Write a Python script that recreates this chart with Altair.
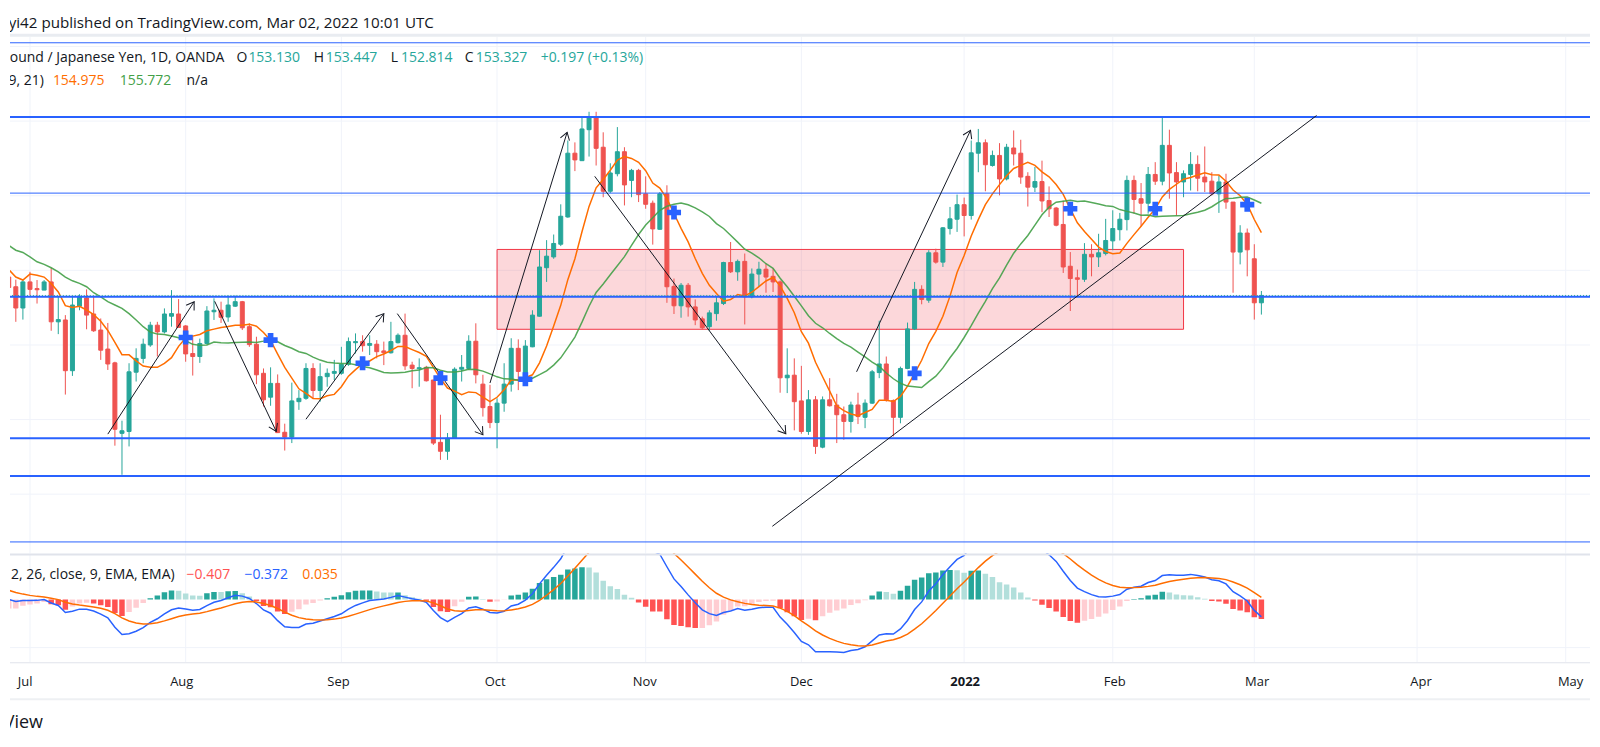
import math
import numpy as np
import pandas as pd
import altair as alt

# ---------------- data ----------------
# daily bars, index 0 = 2021-06-28 ... index 177 = 2022-03-02
opens = [153.82, 153.56, 152.99, 153.69, 153.51, 153.47, 153.69, 152.62, 152.67, 151.31,
         153.04, 153.26, 152.83, 152.40, 151.89, 151.52, 149.63, 149.68, 151.27, 151.64,
         152.00, 152.53, 152.35, 152.77, 152.83, 152.51, 151.77, 151.69, 152.04, 152.89,
         152.93, 152.75, 153.04, 153.16, 152.49, 152.02, 151.24, 150.60, 150.97, 149.66,
         149.53, 150.48, 150.57, 151.37, 150.78, 151.15, 151.24, 151.24, 151.48, 152.06,
         152.09, 151.99, 152.02, 151.84, 151.79, 152.06, 152.26, 151.46, 151.36, 151.40,
         151.06, 149.39, 149.15, 149.50, 151.35, 151.37, 152.10, 150.95, 150.35, 149.92,
         150.44, 150.95, 151.91, 151.15, 151.95, 152.77, 154.07, 154.36, 154.70, 155.43,
         157.14, 156.94, 157.77, 158.10, 157.30, 156.12, 156.59, 157.18, 156.41, 156.68,
         156.05, 155.80, 155.10, 156.05, 153.57, 153.05, 153.60, 153.02, 152.70, 152.49,
         152.84, 153.11, 154.21, 153.96, 154.24, 153.29, 153.90, 154.03, 153.84, 153.69,
         151.12, 151.19, 150.50, 149.68, 150.53, 149.26, 150.53, 150.39, 150.13, 149.95,
         150.39, 150.06, 150.44, 151.26, 151.49, 150.51, 150.06, 151.37, 152.43, 153.49,
         153.20, 154.47, 154.22, 155.12, 155.37, 155.76, 155.47, 157.14, 157.42, 156.81,
         157.08, 156.45, 157.28, 157.14, 156.52, 156.23, 156.38, 155.87, 155.67, 155.23,
         154.11, 153.80, 153.76, 154.43, 154.36, 154.45, 154.79, 155.09, 155.36, 156.41,
         155.92, 155.80, 156.57, 156.39, 157.35, 156.62, 156.37, 156.57, 156.84, 156.50,
         156.39, 156.05, 156.37, 155.83, 154.49, 155.00, 154.31, 153.13]
highs = [154.23, 153.75, 153.74, 153.96, 153.74, 153.74, 154.07, 153.29, 152.80, 153.29,
         153.36, 153.49, 153.32, 152.71, 152.59, 151.55, 149.97, 151.51, 151.91, 152.17,
         152.62, 152.62, 152.98, 153.47, 153.23, 152.53, 152.26, 152.17, 153.04, 153.25,
         153.16, 153.32, 153.32, 153.18, 152.58, 152.22, 151.37, 151.40, 151.21, 149.89,
         150.99, 150.79, 151.51, 151.51, 151.51, 151.37, 151.60, 151.95, 152.20, 152.31,
         152.26, 152.26, 152.13, 152.09, 152.62, 152.31, 152.84, 151.55, 151.64, 151.44,
         151.06, 150.13, 149.64, 151.40, 151.73, 152.26, 152.58, 151.20, 150.93, 150.57,
         151.51, 152.18, 152.15, 152.13, 152.93, 154.54, 154.81, 154.96, 155.77, 157.48,
         157.43, 158.09, 158.25, 158.25, 157.70, 156.87, 157.84, 157.30, 156.72, 156.72,
         156.52, 155.87, 156.10, 156.28, 153.78, 153.66, 153.66, 153.22, 152.76, 152.93,
         153.29, 154.23, 154.76, 154.29, 154.45, 154.05, 154.23, 154.18, 154.05, 153.73,
         151.91, 151.64, 151.44, 150.79, 150.63, 150.62, 151.11, 150.69, 150.35, 150.48,
         150.72, 150.54, 151.33, 152.65, 151.69, 150.54, 151.42, 152.60, 153.69, 153.60,
         154.54, 154.58, 155.16, 155.70, 156.03, 155.95, 157.48, 157.79, 157.51, 157.21,
         157.41, 157.39, 157.75, 157.50, 156.63, 156.77, 156.94, 156.25, 155.70, 155.87,
         154.49, 154.02, 154.73, 154.70, 154.98, 155.38, 155.61, 155.54, 156.54, 156.54,
         156.34, 156.77, 156.90, 158.10, 157.77, 156.90, 156.68, 157.17, 157.08, 157.32,
         156.63, 156.54, 156.59, 155.83, 155.21, 155.12, 154.70, 153.447]
lows = [153.38, 152.62, 152.68, 153.33, 153.11, 153.47, 152.38, 152.29, 150.67, 151.17,
        152.93, 152.42, 152.35, 151.60, 151.33, 149.30, 148.52, 149.28, 151.02, 151.51,
        151.95, 151.69, 152.31, 152.49, 152.47, 151.55, 151.18, 151.52, 152.01, 152.67,
        152.59, 152.62, 153.02, 152.40, 151.95, 150.95, 150.35, 150.37, 149.64, 149.17,
        149.37, 150.26, 150.53, 150.57, 150.48, 150.88, 151.06, 151.20, 151.44, 151.77,
        151.82, 151.73, 151.64, 151.46, 151.77, 152.04, 151.33, 150.84, 150.88, 151.02,
        149.32, 148.92, 148.92, 149.48, 151.02, 151.33, 150.97, 150.08, 149.77, 149.23,
        150.21, 150.75, 150.79, 150.97, 151.94, 152.76, 153.69, 154.31, 154.65, 155.41,
        156.66, 156.93, 157.05, 156.81, 155.96, 156.07, 156.52, 155.74, 155.96, 155.83,
        155.65, 154.69, 155.09, 153.13, 152.83, 152.73, 152.76, 152.53, 152.42, 152.38,
        152.65, 153.07, 153.93, 153.72, 152.55, 153.25, 153.56, 153.40, 153.42, 150.72,
        150.71, 149.71, 149.62, 149.59, 149.08, 149.23, 150.35, 149.37, 149.46, 149.65,
        149.88, 149.77, 150.42, 151.11, 150.48, 149.55, 149.90, 151.35, 152.40, 153.09,
        153.13, 154.18, 154.09, 154.96, 155.03, 154.91, 155.36, 156.63, 156.12, 156.78,
        156.01, 156.41, 156.81, 156.32, 155.71, 156.10, 155.56, 155.43, 155.18, 153.93,
        152.91, 153.29, 153.69, 153.84, 154.09, 154.40, 154.54, 154.80, 155.07, 155.52,
        155.18, 155.52, 156.29, 156.28, 155.92, 155.47, 155.96, 156.14, 156.12, 156.10,
        156.01, 155.54, 155.65, 153.40, 154.16, 153.84, 152.68, 152.814]
closes = [153.54, 152.99, 153.69, 153.49, 153.48, 153.69, 152.62, 152.68, 151.31, 153.07,
          153.29, 152.80, 152.38, 151.86, 151.49, 149.74, 149.70, 151.28, 151.64, 152.02,
          152.53, 152.35, 152.83, 152.84, 152.47, 151.76, 151.69, 152.04, 152.91, 152.93,
          152.74, 153.07, 153.16, 152.46, 152.01, 151.20, 150.53, 150.97, 149.65, 149.53,
          150.50, 150.57, 151.37, 150.78, 151.15, 151.24, 151.29, 151.48, 152.09, 152.09,
          151.98, 152.04, 151.82, 151.79, 152.09, 152.26, 151.44, 151.37, 151.39, 151.04,
          149.37, 149.15, 149.50, 151.35, 151.40, 152.10, 151.20, 150.32, 149.92, 150.44,
          150.95, 151.91, 151.29, 151.97, 152.80, 154.09, 154.38, 154.72, 155.45, 157.14,
          156.96, 157.79, 158.10, 157.27, 156.12, 156.61, 157.18, 156.29, 156.68, 156.03,
          155.77, 155.11, 156.05, 153.56, 153.05, 153.60, 153.02, 152.67, 152.46, 152.86,
          153.13, 154.21, 153.96, 154.24, 153.29, 153.90, 154.03, 153.82, 153.69, 151.12,
          151.19, 150.48, 149.68, 150.53, 149.28, 150.53, 150.37, 150.13, 149.95, 150.39,
          150.08, 150.44, 151.28, 151.49, 150.53, 150.06, 151.37, 152.43, 153.49, 153.22,
          154.47, 154.22, 155.14, 155.38, 155.76, 155.47, 157.15, 157.42, 156.83, 157.08,
          156.45, 157.30, 157.12, 156.50, 156.23, 156.38, 155.86, 155.65, 155.21, 154.09,
          153.78, 153.76, 154.43, 154.36, 154.47, 154.80, 155.12, 155.37, 156.41, 155.90,
          155.80, 156.57, 156.39, 157.35, 156.61, 156.37, 156.59, 156.84, 156.47, 156.37,
          156.05, 156.37, 155.83, 154.49, 155.00, 154.55, 153.13, 153.327]

# moving-average values at the left edge (before a full window exists)
sma9_head = [154.02, 153.82, 153.74, 153.90, 153.87, 153.82, 153.65, 153.42]
sma21_head = [154.67, 154.54, 154.48, 154.36, 154.23, 154.16, 154.07, 153.96, 153.82, 153.72,
              153.65, 153.56, 153.40, 153.29, 153.16, 153.07, 152.98, 152.84, 152.67, 152.49]
macd_signal_start = 0.19

# time axis: bar index of the first session of each month
month_idx = [3, 25, 47, 69, 90, 112, 135, 156, 176, 199, 220]
month_labels = ["Jul", "Aug", "Sep", "Oct", "Nov", "Dec", "2022", "Feb", "Mar", "Apr", "May"]

price_grid = [148, 150, 152, 154, 156, 158, 160]
macd_grid = [-1]
hline_prices = [160.10, 158.11, 156.07, 153.29, 149.50, 148.49, 146.72]
last_close = 153.327

zone_idx = [69, 166]
zone_price = [154.56, 152.42]

trend_idx = [107.9, 184.8]
trend_price = [147.14, 158.15]

arrow_idx0 = [14.0, 29.1, 42.0, 54.9, 68.0, 82.8, 119.8]
arrow_price0 = [149.61, 153.17, 150.01, 152.84, 150.98, 156.52, 151.28]
arrow_idx1 = [26.2, 37.8, 53.0, 67.0, 78.9, 109.8, 135.9]
arrow_price1 = [153.16, 149.68, 152.84, 149.59, 157.70, 149.62, 157.75]

cross_idx = [25, 37, 50, 61, 73, 94, 128, 150, 162, 175]
cross_price = [152.20, 152.13, 151.51, 151.11, 151.08, 155.55, 151.24, 155.65, 155.65, 155.76]

# ---------------- layout / style ----------------
W = 1584
H_HEAD, H_MAIN, H_MACD, H_AXIS, H_FOOT = 28, 518, 109, 36, 34
X_DOM = [0.8824, 222.73]
P_DOM = [146.409, 160.259]
M_DOM = [-1.304, 0.952]
HLINE_WIDTHS = [1, 2, 1, 2, 2, 2, 1]

FONT = "Open Sans"
LEG = 14
DARK = "#131722"
UP, DOWN = "#26a69a", "#ef5350"
ORANGE, GREEN, BLUE = "#ff6d00", "#43a047", "#2962ff"
GRID = "#f0f3fa"

xs = alt.Scale(domain=X_DOM, nice=False, zero=False)
ps = alt.Scale(domain=P_DOM, nice=False, zero=False)
ms = alt.Scale(domain=M_DOM, nice=False, zero=False)
dir_scale = alt.Scale(domain=["up", "down"], range=[UP, DOWN])

# ---------------- derived series ----------------
n = len(closes)
df = pd.DataFrame({"i": np.arange(n), "open": opens, "high": highs,
                   "low": lows, "close": closes})
df["dir"] = np.where(df["close"] >= df["open"], "up", "down")
c = df["close"]
sma9 = c.rolling(9).mean()
sma9.iloc[:len(sma9_head)] = sma9_head
sma21 = c.rolling(21).mean()
sma21.iloc[:len(sma21_head)] = sma21_head
df["sma9"] = sma9
df["sma21"] = sma21
ema12 = c.ewm(span=12, adjust=False).mean()
ema26 = c.ewm(span=26, adjust=False).mean()
macd = (ema12 - ema26).tolist()
sig = [macd_signal_start]
for m in macd[1:]:
    sig.append(sig[-1] + 0.2 * (m - sig[-1]))
df["macd"] = macd
df["signal"] = sig
df["hist"] = df["macd"] - df["signal"]
prev = df["hist"].shift(1).fillna(df["hist"].iloc[0])
df["hcat"] = np.where(df["hist"] >= 0,
                      np.where(df["hist"] > prev, "pos_up", "pos_down"),
                      np.where(df["hist"] < prev, "neg_down", "neg_up"))
hist_scale = alt.Scale(domain=["pos_up", "pos_down", "neg_down", "neg_up"],
                       range=["#26a69a", "#b2dfdb", "#ff5252", "#ffcdd2"])

X = alt.X("i:Q", scale=xs, axis=None)

months = pd.DataFrame({"i": month_idx, "label": month_labels})
hl = pd.DataFrame({"price": hline_prices, "w": HLINE_WIDTHS})
zone = pd.DataFrame({"i0": [zone_idx[0]], "i1": [zone_idx[1]],
                     "p0": [zone_price[0]], "p1": [zone_price[1]]})

seg_rows = []
for k in range(len(arrow_idx0)):
    seg_rows.append({"id": f"a{k}", "i": arrow_idx0[k], "p": arrow_price0[k]})
    seg_rows.append({"id": f"a{k}", "i": arrow_idx1[k], "p": arrow_price1[k]})
seg_rows.append({"id": "trend", "i": trend_idx[0], "p": trend_price[0]})
seg_rows.append({"id": "trend", "i": trend_idx[1], "p": trend_price[1]})
segs = pd.DataFrame(seg_rows)

px_i = W / (X_DOM[1] - X_DOM[0])
px_p = H_MAIN / (P_DOM[1] - P_DOM[0])
heads = pd.DataFrame({
    "i": arrow_idx1, "p": arrow_price1,
    "angle": [math.degrees(math.atan2((arrow_idx1[k] - arrow_idx0[k]) * px_i,
                                      (arrow_price1[k] - arrow_price0[k]) * px_p)) % 360
              for k in range(len(arrow_idx0))]})
crosses = pd.DataFrame({"i": cross_idx, "p": cross_price})


def txt(s, x, y, color=DARK, align="left", size=LEG, weight="normal"):
    return alt.Chart(pd.DataFrame({"t": [s]})).mark_text(
        align=align, baseline="middle", font=FONT, fontSize=size,
        fontWeight=weight, color=color, clip=True
    ).encode(x=alt.value(x), y=alt.value(y), text="t:N")


def hrule(y, color, width, total_w=W):
    return alt.Chart(pd.DataFrame({"z": [0]})).mark_rule(
        color=color, strokeWidth=width
    ).encode(x=alt.value(0), x2=alt.value(total_w), y=alt.value(y))


# ---------------- header ----------------
header = alt.layer(
    hrule(26.5, "#e9ecf1", 3),
    txt("yi42 published on TradingView.com, Mar 02, 2022 10:01 UTC", 425, 13.7,
        color=DARK, align="right", size=15.2),
).properties(width=W, height=H_HEAD)

# ---------------- main pane ----------------
vgrid = alt.Chart(months).mark_rule(color=GRID, strokeWidth=1, clip=True).encode(x=X)
hgrid = alt.Chart(pd.DataFrame({"p": price_grid})).mark_rule(
    color=GRID, strokeWidth=1, clip=True).encode(y=alt.Y("p:Q", scale=ps, axis=None))
rect = alt.Chart(zone).mark_rect(fill="#f23645", fillOpacity=0.2, stroke="#f23645",
                                 strokeWidth=1, clip=True).encode(
    x=alt.X("i0:Q", scale=xs, axis=None), x2="i1:Q",
    y=alt.Y("p0:Q", scale=ps, axis=None), y2="p1:Q")
base = alt.Chart(df)
wicks = base.mark_rule(strokeWidth=1, clip=True).encode(
    x=X, y=alt.Y("low:Q", scale=ps, axis=None), y2="high:Q",
    color=alt.Color("dir:N", scale=dir_scale, legend=None))
bodies = base.mark_bar(size=4, strokeWidth=1, clip=True).encode(
    x=X, y=alt.Y("open:Q", scale=ps, axis=None), y2="close:Q",
    color=alt.Color("dir:N", scale=dir_scale, legend=None),
    stroke=alt.Stroke("dir:N", scale=dir_scale, legend=None))
ma_fast = base.mark_line(color=ORANGE, strokeWidth=1.5, clip=True).encode(
    x=X, y=alt.Y("sma9:Q", scale=ps, axis=None))
ma_slow = base.mark_line(color=GREEN, strokeWidth=1.5, clip=True, opacity=0.9).encode(
    x=X, y=alt.Y("sma21:Q", scale=ps, axis=None))
hlines = alt.Chart(hl).mark_rule(color=BLUE, clip=True).encode(
    y=alt.Y("price:Q", scale=ps, axis=None),
    strokeWidth=alt.StrokeWidth("w:Q", scale=None))
pline = alt.Chart(pd.DataFrame({"p": [last_close]})).mark_rule(
    color=UP, strokeWidth=1, strokeDash=[1, 2], clip=True).encode(
    y=alt.Y("p:Q", scale=ps, axis=None))
seg_lines = alt.Chart(segs).mark_line(color=DARK, strokeWidth=1, clip=True).encode(
    x=X, y=alt.Y("p:Q", scale=ps, axis=None), detail="id:N")
head_marks = alt.Chart(heads).mark_point(
    shape="M -0.55 0.85 L 0 0 L 0.55 0.85", filled=False, size=300,
    color=DARK, strokeWidth=1, opacity=1, clip=True).encode(
    x=X, y=alt.Y("p:Q", scale=ps, axis=None),
    angle=alt.Angle("angle:Q", scale=None))
cross_marks = alt.Chart(crosses).mark_point(
    shape="cross", filled=True, size=200, color=BLUE, opacity=1, clip=True).encode(
    x=X, y=alt.Y("p:Q", scale=ps, axis=None))

legend_main = [
    txt("Pound / Japanese Yen, 1D, OANDA", 215, 21.3, align="right"),
    txt("O", 227, 21.3), txt("153.130", 239, 21.3, color=UP),
    txt("H", 304.5, 21.3), txt("153.447", 316.6, 21.3, color=UP),
    txt("L", 381.7, 21.3), txt("152.814", 392, 21.3, color=UP),
    txt("C", 456, 21.3), txt("153.327", 467, 21.3, color=UP),
    txt("+0.197 (+0.13%)", 532, 21.3, color=UP),
    txt("MA Cross (9, 21)", 34, 44, align="right"),
    txt("154.975", 43, 44, color=ORANGE),
    txt("155.772", 110, 44, color=GREEN),
    txt("n/a", 177, 44),
]

main = alt.layer(vgrid, hgrid, rect, wicks, bodies, ma_fast, ma_slow, hlines, pline,
                 seg_lines, head_marks, cross_marks, *legend_main
                 ).properties(width=W, height=H_MAIN)

# ---------------- MACD pane ----------------
MY = lambda f: alt.Y(f, scale=ms, axis=None)
m_vgrid = alt.Chart(months).mark_rule(color=GRID, strokeWidth=1, clip=True).encode(x=X)
m_hgrid = alt.Chart(pd.DataFrame({"v": macd_grid})).mark_rule(
    color=GRID, strokeWidth=1, clip=True).encode(y=MY("v:Q"))
hist_bars = base.mark_bar(size=5.5, clip=True).encode(
    x=X, y=MY("hist:Q"), y2=alt.datum(0),
    fill=alt.Fill("hcat:N", scale=hist_scale, legend=None))
macd_line = base.mark_line(color=BLUE, strokeWidth=1.5, clip=True).encode(x=X, y=MY("macd:Q"))
sig_line = base.mark_line(color=ORANGE, strokeWidth=1.5, clip=True).encode(x=X, y=MY("signal:Q"))
legend_macd = [
    txt("MACD (12, 26, close, 9, EMA, EMA)", 165, 22, align="right"),
    txt("\u22120.407", 177, 22, color="#ff5252"),
    txt("\u22120.372", 235, 22, color=BLUE),
    txt("0.035", 293, 22, color=ORANGE),
]
macd_pane = alt.layer(m_vgrid, m_hgrid, hist_bars, macd_line, sig_line,
                      hrule(1, "#e0e3eb", 2), *legend_macd
                      ).properties(width=W, height=H_MACD)

# ---------------- time axis ----------------
lab_normal = alt.Chart(months[months["label"] != "2022"]).mark_text(
    font=FONT, fontSize=13, color=DARK, baseline="middle", align="center", clip=True
).encode(x=X, y=alt.value(20), text="label:N")
lab_bold = alt.Chart(months[months["label"] == "2022"]).mark_text(
    font=FONT, fontSize=13, fontWeight="bold", color=DARK, baseline="middle",
    align="center", clip=True
).encode(x=X, y=alt.value(20), text="label:N")
axis_pane = alt.layer(hrule(0.5, "#e0e3eb", 1), lab_normal, lab_bold
                      ).properties(width=W, height=H_AXIS)

# ---------------- footer ----------------
footer = alt.layer(
    hrule(1, "#eef0f3", 2),
    txt("TradingView", 33, 25, align="right", size=18, weight=500),
).properties(width=W, height=H_FOOT)

chart = alt.vconcat(header, main, macd_pane, axis_pane, footer, spacing=0,
                    bounds="flush", padding=0, background="white"
                    ).resolve_scale(color="independent", fill="independent",
                                    stroke="independent"
                    ).configure_view(stroke=None)

chart.save("out.html", embed_options={"renderer": "svg", "actions": False})
